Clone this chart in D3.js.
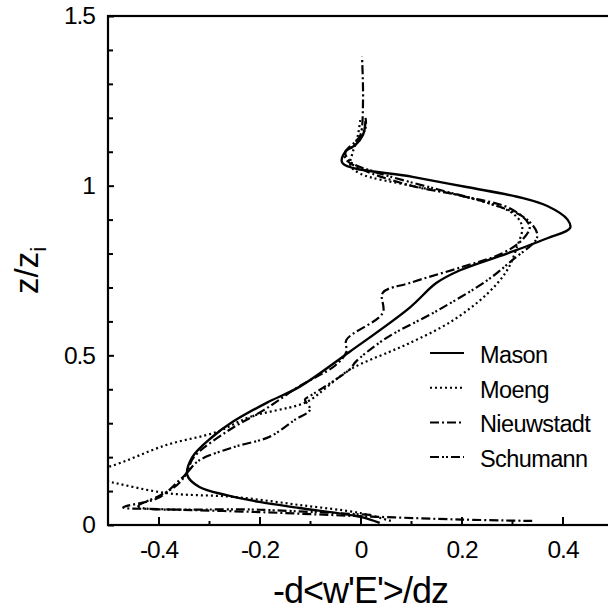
<!DOCTYPE html>
<html>
<head>
<meta charset="utf-8">
<script src="https://d3js.org/d3.v7.min.js"></script>
<style>
    body { margin: 0; background: #fff; }
    svg { display: block; font-family: "Liberation Sans", Arial, sans-serif; }
</style>
</head>
<body>
<script>
// profiles of -d<w'E'>/dz against z/zi as [value, z/zi]
var masonPts = [[0.038,0.006],[0,0.024],[-0.121,0.05],[-0.2,0.068],[-0.265,0.088],[-0.319,0.112],
    [-0.343,0.147],[-0.333,0.2],[-0.293,0.26],[-0.253,0.304],[-0.186,0.36],[-0.121,0.407],
    [-0.022,0.51],[0.097,0.64],[0.15,0.713],[0.196,0.75],[0.29,0.8],[0.37,0.845],[0.415,0.875],
    [0.41,0.9],[0.37,0.94],[0.32,0.964],[0.21,0.996],[0.103,1.026],[-0.036,1.067],
    [-0.03,1.1],[-0.01,1.12],[0.005,1.15],[0.01,1.19]];
var moengPts = [[0.06,0.012],[0,0.035],[-0.121,0.059],[-0.253,0.083],[-0.384,0.094],[-0.497,0.127],
    [-0.58,0.15],[-0.5,0.171],[-0.384,0.236],[-0.285,0.274],[-0.22,0.318],[-0.121,0.354],
    [-0.1,0.368],[-0.022,0.457],[0.057,0.51],[0.097,0.536],[0.18,0.6],[0.25,0.68],[0.29,0.75],
    [0.31,0.82],[0.32,0.88],[0.3,0.92],[0.2,0.97],[0.1,1.0],[0,1.035],[-0.02,1.06],
    [-0.015,1.1],[-0.005,1.15],[0,1.2]];
var nieuwstadtPts = [[0.34,0.012],[0.2,0.016],[0,0.026],[-0.2,0.038],[-0.4,0.047],[-0.47,0.052],
    [-0.4,0.08],[-0.36,0.13],[-0.345,0.152],[-0.33,0.2],[-0.26,0.28],[-0.19,0.34],[-0.12,0.41],
    [-0.05,0.47],[-0.028,0.51],[-0.028,0.545],[0.044,0.625],[0.044,0.684],[0.097,0.713],
    [0.2,0.76],[0.28,0.8],[0.32,0.84],[0.335,0.88],[0.3,0.93],[0.2,0.97],[0.1,1.0],[0,1.05],
    [-0.03,1.08],[-0.03,1.1],[-0.01,1.13],[0,1.15],[0.005,1.25],[0.003,1.38]];
var schumannPts = [[0.02,0.03],[-0.2,0.045],[-0.44,0.055],[-0.4,0.085],[-0.37,0.11],[-0.355,0.13],
    [-0.34,0.16],[-0.32,0.19],[-0.25,0.23],[-0.18,0.26],[-0.13,0.31],[-0.1,0.34],[-0.11,0.37],
    [-0.1,0.38],[-0.02,0.46],[-0.01,0.48],[0.05,0.55],[0.15,0.63],[0.25,0.72],[0.3,0.78],
    [0.35,0.85],[0.33,0.9],[0.25,0.95],[0.15,0.99],[0.03,1.04],[-0.02,1.07],[-0.03,1.1],
    [-0.01,1.12],[0.01,1.17],[0.01,1.2]];

var names = ['Mason', 'Moeng', 'Nieuwstadt', 'Schumann'];
var xTicks = [-0.4, -0.2, 0, 0.2, 0.4];
var xTickLabels = ['-0.4', '-0.2', '0', '0.2', '0.4'];
var xMinor = [-0.3, -0.1, 0.1, 0.3];
var yTicks = [0, 0.5, 1, 1.5];
var yTickLabels = ['0', '0.5', '1', '1.5'];
var yMinor = [0.1, 0.2, 0.3, 0.4, 0.6, 0.7, 0.8, 0.9, 1.1, 1.2, 1.3, 1.4];

var width = 608, height = 610;
var series = [masonPts, moengPts, nieuwstadtPts, schumannPts];
var dashes = ['none', '2,3', '9,3,2,3', '9,3,2,2,2,3'];

var svg = d3.select('body').append('svg')
    .attr('width', width)
    .attr('height', height);

var x = d3.scaleLinear().domain([-0.5, 0.5]).range([108, 613]);
var y = d3.scaleLinear().domain([0, 1.5]).range([525, 16]);

svg.append('clipPath').attr('id', 'plot')
    .append('rect')
    .attr('x', x(-0.5)).attr('y', y(1.5))
    .attr('width', x(0.5) - x(-0.5)).attr('height', y(0) - y(1.5));

// frame
svg.append('rect')
    .attr('x', x(-0.5)).attr('y', y(1.5))
    .attr('width', x(0.5) - x(-0.5)).attr('height', y(0) - y(1.5))
    .attr('fill', 'none').attr('stroke', '#000').attr('stroke-width', 2.2);

// axes
svg.append('g')
    .attr('transform', 'translate(' + x(-0.5) + ',0)')
    .call(d3.axisLeft(y).tickValues(yTicks).tickSize(-6).tickPadding(13)
        .tickFormat((d, i) => yTickLabels[i]));
svg.append('g')
    .attr('transform', 'translate(' + x(-0.5) + ',0)')
    .call(d3.axisLeft(y).tickValues(yMinor).tickSize(-5).tickFormat(''));

svg.append('g')
    .attr('transform', 'translate(0,' + y(0) + ')')
    .call(d3.axisBottom(x).tickValues(xTicks).tickSize(-8).tickPadding(16)
        .tickFormat((d, i) => xTickLabels[i]));
svg.append('g')
    .attr('transform', 'translate(0,' + y(0) + ')')
    .call(d3.axisBottom(x).tickValues(xMinor).tickSize(-4).tickFormat(''));

svg.selectAll('.domain').remove();
svg.selectAll('.tick line').attr('stroke', '#000').attr('stroke-width', 2);
svg.selectAll('.tick text')
    .attr('fill', '#000')
    .style('font-size', '24.5px')
    .style('letter-spacing', '-1px');

// curves
var line = d3.line()
    .x(d => x(d[0]))
    .y(d => y(d[1]))
    .curve(d3.curveCatmullRom.alpha(0.5));

svg.append('g')
    .attr('clip-path', 'url(#plot)')
    .selectAll('path')
    .data(series)
    .enter()
    .append('path')
    .attr('d', line)
    .attr('fill', 'none')
    .attr('stroke', '#000')
    .attr('stroke-width', (d, i) => i == 0 ? 2.4 : 2.2)
    .attr('stroke-dasharray', (d, i) => dashes[i]);

// legend
var legend = svg.append('g').attr('transform', 'translate(430,353)');
var rows = legend.selectAll('g')
    .data(names)
    .enter()
    .append('g')
    .attr('transform', (d, i) => 'translate(0,' + i * 34.7 + ')');
rows.append('line')
    .attr('x1', 0).attr('x2', 34)
    .attr('stroke', '#000').attr('stroke-width', 2)
    .attr('stroke-dasharray', (d, i) => dashes[i]);
rows.append('text')
    .attr('x', 50).attr('y', 10)
    .style('font-size', '23.5px')
    .style('letter-spacing', '-0.6px')
    .text(d => d);

// axis titles
svg.append('text')
    .attr('x', x(0)).attr('y', 603)
    .attr('text-anchor', 'middle')
    .style('font-size', '36px')
    .style('letter-spacing', '-1px')
    .text("-d<w'E'>/dz");

var yt = svg.append('text')
    .attr('transform', 'translate(38,' + y(0.75) + ') rotate(-90)')
    .attr('text-anchor', 'middle')
    .style('font-size', '33px');
yt.append('tspan').text('z/z');
yt.append('tspan').attr('dy', 8).style('font-size', '22px').text('i');
</script>
</body>
</html>
